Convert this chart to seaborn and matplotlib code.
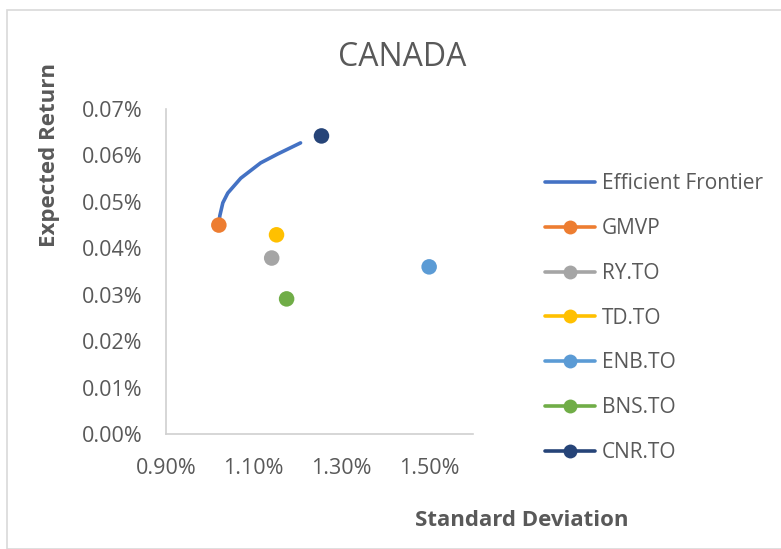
import matplotlib
matplotlib.use("Agg")
import matplotlib.pyplot as plt
from matplotlib.lines import Line2D
from matplotlib.patches import Rectangle
import seaborn as sns
import pandas as pd

# Data (percent units)
frontier_sd = [1.0205, 1.0227, 1.0296, 1.0409, 1.0705, 1.1159, 1.1545, 1.2068]
frontier_ret = [0.0450, 0.0470, 0.0498, 0.0519, 0.0551, 0.0584, 0.0603, 0.0627]

assets = ["GMVP", "RY.TO", "TD.TO", "ENB.TO", "BNS.TO", "CNR.TO"]
asset_sd = [1.0205, 1.141, 1.152, 1.500, 1.175, 1.2545]
asset_ret = [0.0450, 0.0379, 0.0429, 0.0360, 0.0291, 0.0642]
colors = ["#ED7D31", "#A5A5A5", "#FFC000", "#5B9BD5", "#70AD47", "#264478"]
frontier_color = "#4472C4"

x_ticks = [0.90, 1.10, 1.30, 1.50]
x_tick_labels = ["0.90%", "1.10%", "1.30%", "1.50%"]
y_ticks = [0.00, 0.01, 0.02, 0.03, 0.04, 0.05, 0.06, 0.07]
y_tick_labels = ["0.00%", "0.01%", "0.02%", "0.03%", "0.04%", "0.05%", "0.06%", "0.07%"]

sns.set_theme(style="white")
plt.rcParams["font.family"] = ["Open Sans", "DejaVu Sans"]

W, H = 781, 549
fig = plt.figure(figsize=(W / 100, H / 100), dpi=100)
ax = fig.add_axes([166 / W, 1 - 434 / H, (473 - 166) / W, (434 - 109) / H])

# outer chart border
fig.patches.append(Rectangle((7 / W, 0), 1.2, 1 - 10 / H, transform=fig.transFigure,
                             fill=False, edgecolor="#D9D9D9", linewidth=1.2))

df_f = pd.DataFrame({"sd": frontier_sd, "ret": frontier_ret})
sns.lineplot(data=df_f, x="sd", y="ret", ax=ax, color=frontier_color, linewidth=2.6,
             sort=False, legend=False, zorder=2)
for line in ax.lines:
    line.set_solid_joinstyle("round")
    line.set_solid_capstyle("round")

df_a = pd.DataFrame({"sd": asset_sd, "ret": asset_ret, "name": assets})
sns.scatterplot(data=df_a, x="sd", y="ret", hue="name", palette=dict(zip(assets, colors)),
                s=125, edgecolor="none", ax=ax, legend=False, zorder=3)

ax.set_xlim(0.9, 1.6)
ax.set_ylim(0.0, 0.07)
ax.set_xticks(x_ticks)
ax.set_xticklabels(x_tick_labels)
ax.set_yticks(y_ticks)
ax.set_yticklabels(y_tick_labels)
ax.tick_params(axis="both", length=0, labelsize=15.5, labelcolor="#595959")
ax.tick_params(axis="x", pad=17)
ax.tick_params(axis="y", pad=17)
ax.set_xlabel("")
ax.set_ylabel("")
for s in ["top", "right"]:
    ax.spines[s].set_visible(False)
for s in ["left", "bottom"]:
    ax.spines[s].set_color("#D0D0D0")
    ax.spines[s].set_linewidth(1.2)
ax.grid(False)

fig.text(402 / W, 1 - 57 / H, "CANADA", ha="center", va="center", fontsize=23,
         color="#595959")
fig.text(522 / W, 1 - 520 / H, "Standard Deviation", ha="center", va="center",
         fontsize=16, fontweight="bold", color="#595959")
fig.text(50 / W, 1 - 155 / H, "Expected Return", ha="center", va="center",
         rotation=90, fontsize=16, fontweight="bold", color="#595959")

handles = [Line2D([], [], color=frontier_color, linewidth=2.6)]
labels = ["Efficient Frontier"]
for n, c in zip(assets, colors):
    handles.append(Line2D([], [], color=c, linewidth=2.6, marker="o", markersize=10,
                          markeredgecolor="none"))
    labels.append(n)
leg = fig.legend(handles, labels, loc="upper left", bbox_to_anchor=(537 / W, 1 - 165 / H),
                 frameon=False, fontsize=15, handlelength=2.4, handletextpad=0.3,
                 labelspacing=1.14, labelcolor="#595959", borderaxespad=0)

fig.savefig("out.png", dpi=100, facecolor="white")
